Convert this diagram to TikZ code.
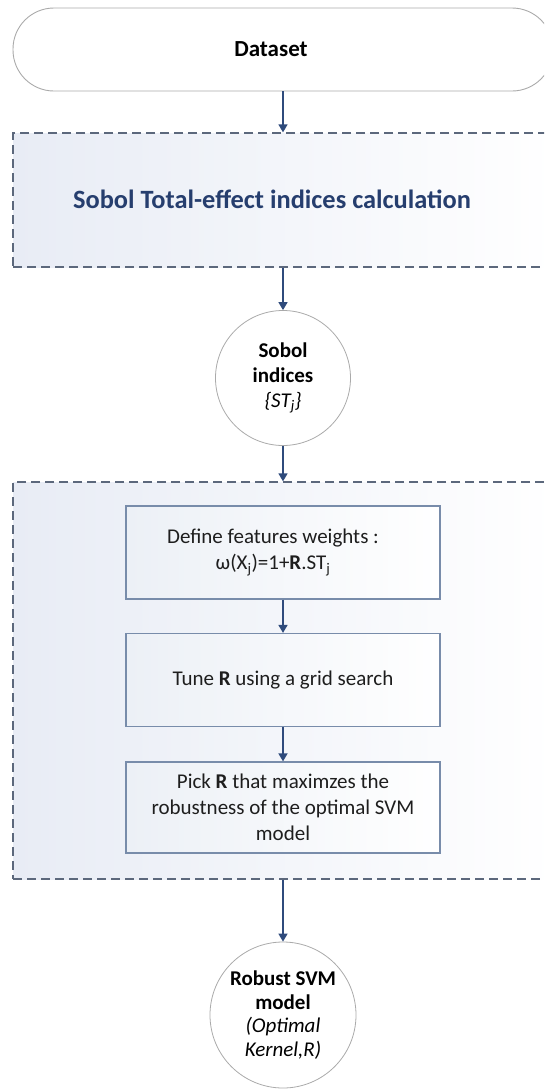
\documentclass[tikz,border=0pt]{standalone}
\usepackage{fontspec}
\setmainfont{Carlito}
\usetikzlibrary{arrows.meta}
\definecolor{flowblue}{RGB}{47, 75, 124}
\definecolor{titleblue}{RGB}{38, 62, 110}
\definecolor{dashgray}{RGB}{92, 104, 124}
\definecolor{boxedge}{RGB}{120, 140, 170}
\definecolor{shapegray}{RGB}{170, 170, 170}
\definecolor{panelfill}{RGB}{232, 236, 245}
\definecolor{stepfill}{RGB}{236, 240, 246}
\definecolor{bodytext}{RGB}{30, 30, 30}

\tikzset{
  terminal/.style={draw=shapegray, line width=0.9pt, rounded corners=41pt,
    minimum width=540pt, minimum height=83pt},
  panel/.style={draw=dashgray, line width=1.3pt, dash pattern=on 9pt off 5pt,
    left color=panelfill, right color=white, minimum width=543pt},
  stepbox/.style={draw=boxedge, line width=1.2pt, left color=stepfill, right color=white,
    minimum width=314pt, minimum height=93pt, align=center, text=bodytext,
    font=\fontsize{21}{26}\selectfont},
  datanode/.style={circle, draw=shapegray, line width=0.8pt, fill=white, align=center,
    inner sep=0pt},
  flow/.style={draw=flowblue, line width=1.6pt, -{Triangle[width=9pt,length=8pt]}}
}

\begin{document}
\begin{tikzpicture}[x=1pt, y=-1pt]

  % page frame (the panels run past the right edge)
  \useasboundingbox (0,0) rectangle (544,1090);
  \clip (0,0) rectangle (544,1090);

  % input
  \node[terminal] (dataset) at (283,49.5) {};
  \node[font=\fontsize{23}{27}\selectfont\bfseries] (datasetlabel) at (271,49.5) {Dataset};

  % sensitivity stage
  \node[panel, minimum height=134pt] (calc) at (284.5,200) {};
  \node[text=titleblue, font=\fontsize{26.4}{30}\selectfont\bfseries] (calclabel) at (272,199)
        {Sobol Total-effect indices calculation};

  \node[datanode, minimum size=135pt, font=\fontsize{21}{25}\selectfont] (indices) at (283,378)
        {\bfseries Sobol\\ \bfseries indices\\ \itshape \{ST\textsubscript{j}\}};

  % weighting and tuning stage
  \node[panel, minimum height=397pt] (tuning) at (284.5,680.5) {};

  \node[stepbox] (weights) at (283,552.5)
        {\hspace*{-20pt}Define features weights :\\ \hspace*{-20pt}ω(X\textsubscript{j})=1+\textbf{R}.ST\textsubscript{j}};
  \node[stepbox] (tune) at (283,680) {Tune \textbf{R} using a grid search};
  \node[stepbox, minimum height=91pt] (pick) at (283,807.5)
        {Pick \textbf{R} that maximzes the\\ robustness of the optimal SVM\\ model};

  % output
  \node[datanode, minimum size=146pt, font=\fontsize{21}{23.5}\selectfont] (result) at (283,1015)
        {\bfseries Robust SVM\\ \bfseries model\\ \itshape (Optimal\\ \itshape Kernel,R)};

  % flow
  \draw[flow] (dataset.south) -- (dataset.south |- calc.north);
  \draw[flow] (indices.north |- calc.south) -- (indices.north);
  \draw[flow] (indices.south) -- (indices.south |- tuning.north);
  \draw[flow] (weights) -- (tune);
  \draw[flow] (tune) -- (pick);
  \draw[flow] (result.north |- tuning.south) -- (result.north);

\end{tikzpicture}
\end{document}
